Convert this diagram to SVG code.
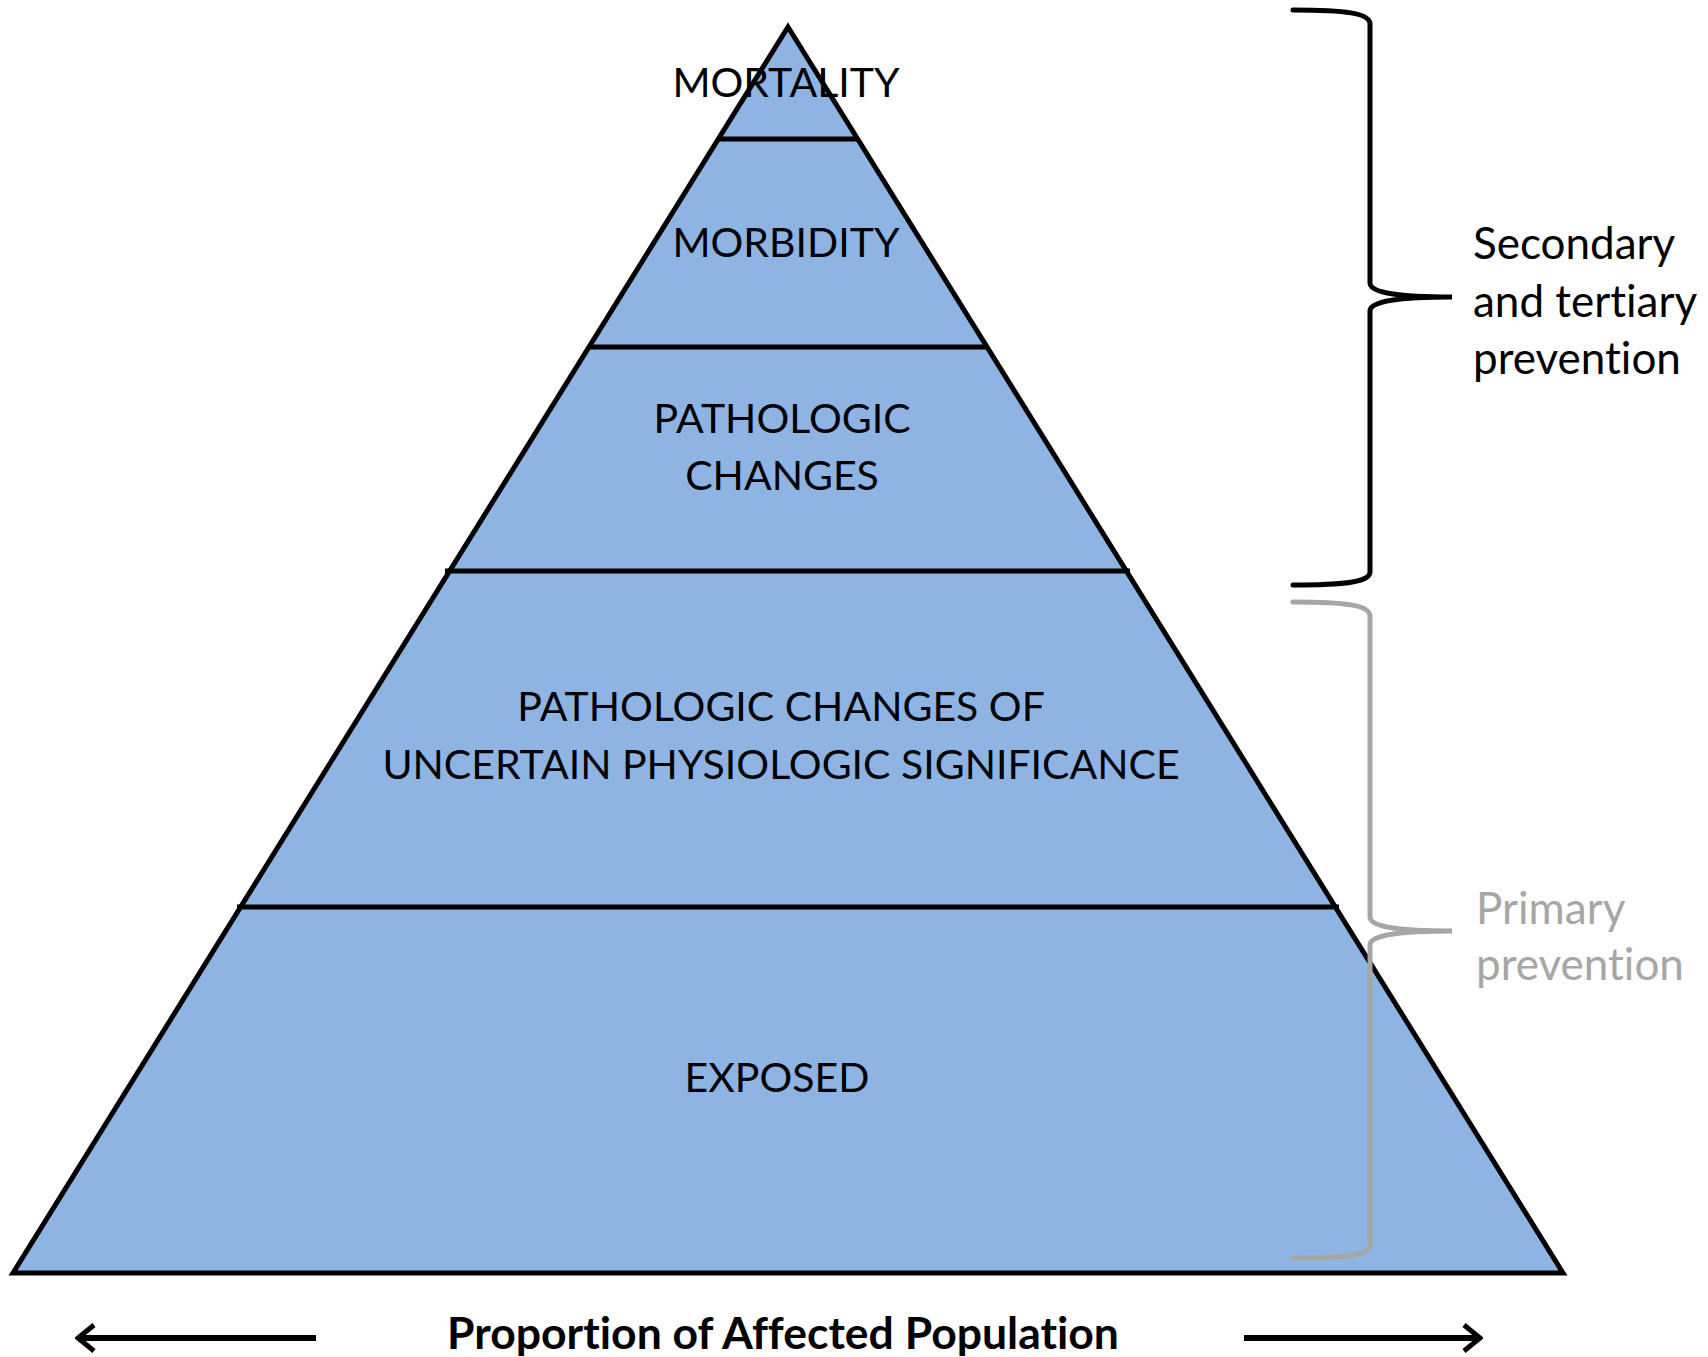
<svg xmlns="http://www.w3.org/2000/svg" width="1708" height="1357" viewBox="0 0 1708 1357">
  <style>
    text { font-variant-ligatures: none; }
    .lbl { font-family: Lato, "Liberation Sans", sans-serif; font-size: 41px; fill: #000; text-anchor: middle; }
    .side { font-family: Lato, "Liberation Sans", sans-serif; font-size: 44px; fill: #000; }
    .side.grey { fill: #A6A6A6; }
    .axis { font-family: Lato, "Liberation Sans", sans-serif; font-size: 44.5px; font-weight: bold; fill: #000; text-anchor: middle; }
    .edge { stroke: #000; stroke-width: 5; fill: none; }
    .brace { fill: none; stroke-width: 5; stroke-linecap: round; }
  </style>
  <defs>
    <marker id="chev" viewBox="0 0 24 30" refX="21" refY="15" markerWidth="24" markerHeight="30" markerUnits="userSpaceOnUse" orient="auto">
      <path d="M5,2 L21,15 L5,28" fill="none" stroke="#000" stroke-width="5"/>
    </marker>
  </defs>
  <rect width="1708" height="1357" fill="#fff"/>

  <!-- pyramid body -->
  <g id="pyramid">
    <polygon points="788,27 1563,1273 13,1273" fill="#8EB4E3" stroke="#000" stroke-width="5" stroke-linejoin="miter"/>
  </g>

  <!-- tier dividers -->
  <g id="dividers">
    <line class="edge" x1="719" y1="139" x2="857" y2="139"/>
    <line class="edge" x1="590" y1="347" x2="987" y2="347"/>
    <line class="edge" x1="445" y1="571" x2="1130" y2="571"/>
    <line class="edge" x1="237" y1="907" x2="1339" y2="907"/>
  </g>

  <g id="tier-mortality"><text class="lbl" x="786" y="97">MORTALITY</text></g>
  <g id="tier-morbidity"><text class="lbl" x="786" y="257">MORBIDITY</text></g>
  <g id="tier-pathologic">
    <text class="lbl" x="782" y="433">PATHOLOGIC</text>
    <text class="lbl" x="782" y="490">CHANGES</text>
  </g>
  <g id="tier-uncertain">
    <text class="lbl" x="781" y="721">PATHOLOGIC CHANGES OF</text>
    <text class="lbl" x="781" y="779">UNCERTAIN PHYSIOLOGIC SIGNIFICANCE</text>
  </g>
  <g id="tier-exposed"><text class="lbl" x="777" y="1092">EXPOSED</text></g>

  <!-- prevention braces -->
  <g id="brace-secondary">
    <path class="brace" stroke="#000" d="M1293,10 C1345,10 1370,13 1370,24 L1370,283 C1370,293 1400,297 1452,297 C1400,297 1370,301 1370,311 L1370,572 C1370,582 1345,585 1293,585"/>
    <text class="side" x="1473" y="259">Secondary</text>
    <text class="side" x="1473" y="317">and tertiary</text>
    <text class="side" x="1473" y="374">prevention</text>
  </g>
  <g id="brace-primary">
    <path class="brace" stroke="#A6A6A6" d="M1293,602 C1345,602 1370,605 1370,616 L1370,917 C1370,927 1400,931 1452,931 C1400,931 1370,935 1370,945 L1370,1245 C1370,1255 1345,1258 1293,1258"/>
    <text class="side grey" x="1476" y="924">Primary</text>
    <text class="side grey" x="1476" y="980">prevention</text>
  </g>

  <!-- population axis -->
  <g id="connectors">
    <line x1="316" y1="1338" x2="78" y2="1338" stroke="#000" stroke-width="6" marker-end="url(#chev)"/>
    <line x1="1244" y1="1338" x2="1480" y2="1338" stroke="#000" stroke-width="6" marker-end="url(#chev)"/>
  </g>
  <g id="axis-label"><text class="axis" x="783" y="1349">Proportion of Affected Population</text></g>
</svg>
